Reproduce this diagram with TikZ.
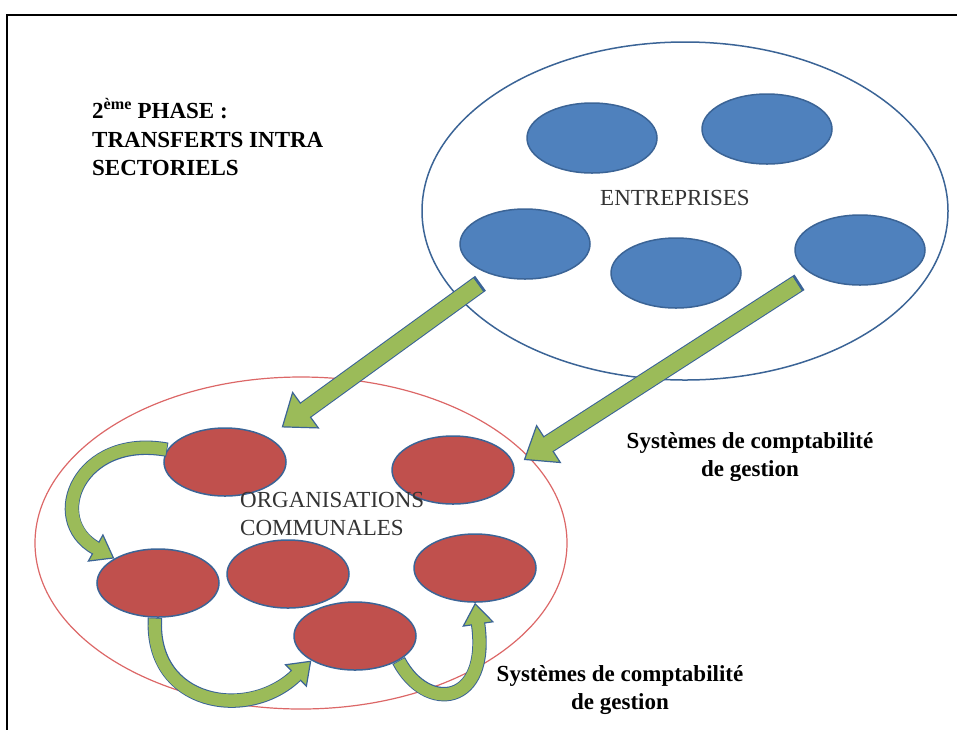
\documentclass[tikz,border=0pt]{standalone}
\usepackage{fontspec}
\setmainfont{Liberation Serif}
\usetikzlibrary{shapes, arrows.meta, positioning, calc}

\definecolor{bleu}{HTML}{4F81BD}
\definecolor{bleufonce}{HTML}{3B6496}
\definecolor{rouge}{HTML}{C0504D}
\definecolor{rougeclair}{HTML}{DC6767}
\definecolor{vert}{HTML}{9BBB59}

\begin{document}
\begin{tikzpicture}[x=1pt, y=-1pt,
    petite/.style={ellipse, draw=bleufonce, line width=1.5pt, inner sep=0pt},
    entreprise/.style={petite, fill=bleu, minimum width=130pt, minimum height=70pt},
    commune/.style={petite, fill=rouge, minimum width=122pt, minimum height=68pt},
    grandefleche/.style={draw=vert, line width=16pt, shorten <=3pt,
        -{Triangle[length=30pt, width=46pt, fill=vert, color=bleufonce, line width=1.2pt]},
        preaction={draw=bleufonce, line width=18.4pt, shorten <=0pt, shorten >=29pt, -},
        postaction={draw=vert, line width=16pt, shorten >=27pt, -}},
    petitefleche/.style={draw=vert, line width=12pt, shorten <=1pt,
        -{Triangle[length=22pt, width=32pt, fill=vert, color=bleufonce, line width=1.2pt]},
        preaction={draw=bleufonce, line width=14.4pt, shorten <=0pt, shorten >=21pt, -},
        postaction={draw=vert, line width=12pt, shorten >=19pt, -}}]
    % taille du texte (en pixels de l'image)
    \def\taille{\fontsize{23}{28.5}\selectfont}
    % cadre de la page
    \useasboundingbox (0,0) rectangle (957,729);
    \draw[line width=2pt] (7,740) -- (7,15) -- (970,15);
    % titre
    \node[font=\taille\bfseries, align=left, anchor=west, inner sep=0pt] (titre) at (92,137)
        {2\textsuperscript{ème} PHASE :\\TRANSFERTS INTRA\\SECTORIELS};
    % grand ensemble des entreprises
    \node[ellipse, draw=bleufonce, line width=1.5pt, minimum width=526pt, minimum height=338pt] (ent) at (685,211) {};
    \node[entreprise] (e1) at (592,138) {};
    \node[entreprise] (e2) at (767,129) {};
    \node[entreprise] (e3) at (525,244) {};
    \node[entreprise] (e4) at (676,273) {};
    \node[entreprise] (e5) at (860,250) {};
    \node[font=\taille, text=black!80] (entlabel) at (675,198) {ENTREPRISES};
    % grand ensemble des organisations communales
    \node[ellipse, draw=rougeclair, line width=1.2pt, minimum width=532pt, minimum height=332pt] (org) at (301,543) {};
    \node[commune] (o1) at (225,462) {};
    \node[commune] (o2) at (453,470) {};
    \node[commune] (o3) at (158,583) {};
    \node[commune] (o4) at (288,574) {};
    \node[commune] (o5) at (475,568) {};
    \node[commune] (o6) at (355,636) {};
    \node[font=\taille, text=black!80, align=left, anchor=west, inner sep=0pt] (orglabel) at (240,514)
        {ORGANISATIONS\\COMMUNALES};
    % transferts des entreprises vers les communes
    \draw[grandefleche] ([shift={(2,14)}]e3.south west) -- ([shift={(13,-10)}]o1.north east);
    \draw[grandefleche] ([shift={(-14,7)}]e5.south west) -- ([shift={(9,-10)}]o2.east);
    % transferts entre communes
    \draw[petitefleche] (o1.168) .. controls +(-88,-16) and +(-70,-39) .. (o3.north west);
    \draw[petitefleche] (o3.265) .. controls +(-5,88) and +(-63,61) .. (o6.south west);
    \draw[petitefleche] (o6.south east) .. controls +(28,53) and +(15,103) .. (o5.south);
    % legendes
    \node[font=\taille\bfseries, align=center] (syst1) at (750,457) {Systèmes de comptabilité\\de gestion};
    \node[font=\taille\bfseries, align=center] (syst2) at (620,690) {Systèmes de comptabilité\\de gestion};
\end{tikzpicture}
\end{document}
